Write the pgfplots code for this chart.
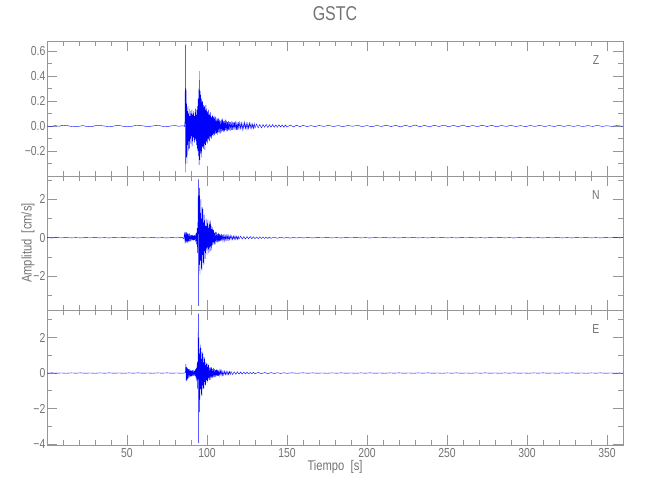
\documentclass[border=0pt]{standalone}
\usepackage{fontspec}
\setmainfont{Liberation Sans}[FakeStretch=0.8]
\usepackage{pgfplots}
\pgfplotsset{compat=1.18}
\definecolor{axgray}{RGB}{150,150,150}
\definecolor{txtgray}{RGB}{115,115,115}
\definecolor{trace}{RGB}{0,0,255}
\pgfplotsset{seis/.style={
  scale only axis, width=576bp, xmin=0, xmax=360,
  axis line style={draw=axgray, line width=0.7bp},
  every tick/.style={draw=axgray, line width=0.7bp},
  major tick length=10bp, minor tick length=5bp,
  xtick={50,100,150,200,250,300,350},
  minor xtick={10,20,30,40,60,70,80,90,110,120,130,140,160,170,180,190,210,220,230,240,260,270,280,290,310,320,330,340},
  tick align=inside,
  ticklabel style={font=\fontsize{13bp}{13bp}\selectfont, text=txtgray},
  yticklabel style={inner xsep=1.5bp},
  /pgf/number format/assume math mode=true,
  clip=true,
  no markers,
  cycle list={{draw=trace, line width=0.35bp, solid}},
}}
\begin{document}
\begin{tikzpicture}
\path[use as bounding box] (0,0) rectangle (650bp,-500bp);
% ---------- Z ----------
\begin{axis}[seis, at={(47bp,-41bp)}, anchor=north west, height=135bp,
  ymin=-0.4, ymax=0.68,
  ytick={-0.2,0,0.2,0.4,0.6}, yticklabels={−0.2,0.0,0.2,0.4,0.6},
  minor ytick={-0.3,-0.1,0.1,0.3,0.5},
  xticklabels={}]
\addplot coordinates {(0,0.000)(2.5,-0.004)(5,0.003)(7.5,-0.002)(10,0.006)(12.5,0.004)(15,-0.003)(17.5,-0.006)(20,-0.002)(22.5,0.003)(25,-0.004)(27.5,-0.006)(30,0.002)(32.5,0.005)(35,0.001)(37.5,-0.003)(40,-0.005)(42.5,0.002)(45,0.004)(47.5,-0.002)(50,-0.006)(52.5,-0.003)(55,0.003)(57.5,0.005)(60,0.001)(62.5,-0.004)(65,-0.002)(67.5,0.003)(70,0.004)(72.5,-0.003)(75,-0.005)(77.5,0.001)(80,0.003)(82.5,-0.002)(85,0.002)(86,-0.003)
(86.3,0.05)(86.5,0.65)(86.7,-0.37)(86.9,0.30)(87.1,-0.25)(87.3,0.18)(87.5,-0.30)(87.7,0.12)(87.9,-0.15)(88.1,0.16)(88.3,-0.20)(88.5,0.10)(88.7,-0.12)(88.9,0.14)(89.1,-0.18)(89.3,0.08)(89.5,-0.10)(89.7,0.12)(89.9,-0.14)(90.1,0.10)(90.3,-0.08)(90.5,0.13)(90.7,-0.16)(90.9,0.09)(91.1,-0.12)(91.3,0.10)(91.5,-0.09)(91.7,0.12)(91.9,-0.11)(92.1,0.08)(92.3,-0.13)(92.5,0.11)(92.7,-0.10)(92.9,0.14)(93.1,-0.12)(93.3,0.09)(93.5,-0.15)(93.7,0.13)(93.9,-0.18)(94.1,0.16)(94.3,-0.20)(94.5,0.22)(94.7,-0.24)(94.9,0.30)(95.1,-0.31)(95.3,0.44)(95.5,-0.27)(95.7,0.28)(95.9,-0.22)(96.1,0.25)(96.3,-0.20)(96.5,0.22)(96.7,-0.25)(96.9,0.19)(97.1,-0.17)(97.3,0.20)(97.5,-0.16)(97.7,0.17)(97.9,-0.18)(98.1,0.15)(98.3,-0.14)(98.5,0.16)(98.7,-0.19)(98.9,0.13)(99.1,-0.15)(99.3,0.17)(99.5,-0.12)(99.7,0.14)(99.9,-0.13)(100.1,0.12)(100.3,-0.14)(100.5,0.11)(100.7,-0.10)(100.9,0.13)(101.1,-0.11)(101.3,0.09)(101.5,-0.12)(101.7,0.10)(101.9,-0.08)(102.1,0.11)(102.3,-0.09)(102.5,0.08)(102.7,-0.10)(102.9,0.07)(103.1,-0.08)(103.3,0.09)(103.5,-0.07)(103.7,0.08)(103.9,-0.06)(104.1,0.07)(104.3,-0.08)(104.5,0.06)(104.7,-0.07)(104.9,0.08)(105.2,-0.06)(105.5,0.07)(105.8,-0.06)(106.1,0.05)(106.4,-0.07)(106.7,0.06)(107,-0.05)(107.3,0.06)(107.6,-0.05)(107.9,0.05)(108.2,-0.06)(108.5,0.04)(108.8,-0.05)(109.1,0.05)(109.4,-0.04)(109.7,0.06)(110,-0.04)(110.3,0.04)(110.6,-0.05)(110.9,0.04)(111.2,-0.04)(111.5,0.05)(111.8,-0.03)(112.1,0.04)(112.4,-0.04)(112.7,0.03)(113,-0.04)(113.3,0.04)(113.6,-0.03)(114,0.03)(114.4,-0.04)(114.8,0.03)(115.2,-0.03)(115.6,0.04)(116,-0.03)(116.4,0.03)(116.8,-0.02)(117.2,0.03)(117.6,-0.03)(118,0.04)(118.4,-0.03)(118.8,0.02)(119.2,-0.03)(119.6,0.03)(120,-0.02)(120.5,0.03)(121,-0.02)(121.5,0.025)(122,-0.03)(122.5,0.02)(123,-0.02)(123.5,0.03)(124,-0.02)(124.5,0.02)(125,-0.025)(125.5,0.02)(126,-0.02)(126.5,0.025)(127,-0.015)(127.5,0.02)(128,-0.02)(128.5,0.015)(129,-0.02)(129.5,0.02)(130,-0.015)(131,0.015)(132,-0.015)(133,0.012)(134,-0.015)(135,0.012)(136,-0.01)(137,0.012)(138,-0.012)(139,0.01)(140,-0.01)(141,0.012)(142,-0.01)(143,0.008)(144,-0.01)(145,0.01)(146,-0.008)(147,0.008)(148,-0.01)(149,0.008)(150,-0.008)(152,0.007)(154,-0.007)(156,0.006)(158,-0.006)(160,0.005)
(162.5,-0.004)(165,0.003)(167.5,-0.005)(170,0.004)(173,-0.003)(176,0.005)(179,-0.004)(182,0.003)(185,-0.005)(188,0.004)(191,-0.002)(194,0.005)(197,-0.004)(200,0.003)(203,-0.006)(206,0.004)(209,-0.003)(212,0.006)(215,-0.004)(218,0.005)(221,-0.007)(224,0.006)(227,-0.005)(230,0.008)(233,-0.006)(236,0.005)(239,-0.007)(242,0.006)(245,-0.004)(248,0.007)(251,-0.006)(254,0.005)(257,-0.005)(260,0.007)(263,-0.006)(266,0.004)(269,-0.005)(272,0.006)(275,-0.004)(278,0.005)(281,-0.006)(284,0.004)(287,-0.003)(290,0.005)(293,-0.004)(296,0.003)(299,-0.005)(302,0.004)(305,-0.003)(308,0.005)(311,-0.004)(314,0.003)(317,-0.004)(320,0.005)(323,-0.003)(326,0.004)(329,-0.003)(332,0.003)(335,-0.004)(338,0.003)(341,-0.003)(344,0.004)(347,-0.003)(350,0.002)(353,-0.003)(356,0.003)(360,-0.002)};
\node[font=\fontsize{13bp}{13bp}\selectfont, text=txtgray] at (rel axis cs:0.953,0.86) {Z};
\end{axis}
% ---------- N ----------
\begin{axis}[seis, at={(47bp,-176bp)}, anchor=north west, height=134bp,
  ymin=-3.77, ymax=3.22,
  ytick={-2,0,2}, yticklabels={−2,0,2},
  minor ytick={-3,-1,1,3},
  xticklabels={}]
\addplot coordinates {(0,0.005)(3,-0.01)(6,0.008)(9,-0.005)(12,0.01)(15,-0.008)(18,0.005)(21,-0.01)(24,0.008)(27,-0.005)(30,0.01)(33,-0.008)(36,0.005)(39,-0.01)(42,0.008)(45,-0.005)(48,0.01)(51,-0.008)(54,0.005)(57,-0.01)(60,0.008)(63,-0.005)(66,0.01)(69,-0.008)(72,0.005)(75,-0.01)(78,0.008)(81,-0.005)(84,0.01)
(84.5,0.02)(85.5,-0.05)(86,0.22)(86.3,-0.3)(86.6,0.28)(86.9,-0.25)(87.2,0.3)(87.5,-0.22)(87.8,0.25)(88.1,-0.28)(88.4,0.2)(88.7,-0.18)(89,0.22)(89.3,-0.2)(89.6,0.15)(89.9,-0.17)(90.2,0.14)(90.5,-0.12)(90.8,0.15)(91.1,-0.13)(91.4,0.12)(91.7,-0.15)(92,0.13)(92.3,-0.12)(92.6,0.16)(92.9,-0.2)(93.2,0.25)(93.5,-0.35)(93.8,0.5)(94.1,-0.8)(94.4,1.2)(94.6,3.05)(94.8,-3.55)(95.0,2.2)(95.2,-1.4)(95.4,2.6)(95.6,-1.9)(95.8,1.3)(96.0,-1.2)(96.2,2.0)(96.4,-1.6)(96.6,1.0)(96.8,-1.7)(97.0,1.6)(97.2,-0.9)(97.4,1.5)(97.6,-1.3)(97.8,0.8)(98.0,-1.4)(98.2,1.2)(98.4,-0.7)(98.6,0.9)(98.8,-1.1)(99,0.6)(99.2,-0.8)(99.4,1.0)(99.6,-0.55)(99.8,0.6)(100,-0.9)(100.2,0.75)(100.4,-0.5)(100.6,0.95)(100.8,-0.6)(101,0.5)(101.2,-0.8)(101.4,0.85)(101.6,-0.5)(101.8,0.7)(102,-0.7)(102.2,0.9)(102.4,-0.45)(102.6,0.6)(102.8,-0.65)(103,0.45)(103.3,-0.4)(103.6,0.55)(103.9,-0.3)(104.2,0.4)(104.5,-0.35)(104.8,0.25)(105.1,-0.35)(105.4,0.3)(105.7,-0.2)(106,0.28)(106.3,-0.25)(106.6,0.2)(106.9,-0.22)(107.2,0.25)(107.5,-0.18)(107.8,0.2)(108.1,-0.2)(108.4,0.16)(108.7,-0.15)(109,0.2)(109.3,-0.14)(109.6,0.15)(110,-0.16)(110.4,0.12)(110.8,-0.15)(111.2,0.14)(111.6,-0.1)(112,0.13)(112.4,-0.12)(112.8,0.1)(113.2,-0.13)(113.6,0.11)(114,-0.1)(114.5,0.12)(115,-0.09)(115.5,0.1)(116,-0.1)(116.5,0.09)(117,-0.08)(117.5,0.1)(118,-0.09)(118.5,0.08)(119,-0.09)(119.5,0.08)(120,-0.07)(121,0.08)(122,-0.07)(123,0.06)(124,-0.07)(125,0.06)(126,-0.05)(127,0.06)(128,-0.05)(129,0.05)(130,-0.05)(131,0.04)(132,-0.05)(133,0.04)(134,-0.04)(135,0.04)(136,-0.035)(137,0.035)(138,-0.04)(139,0.03)(140,-0.03)(142,0.03)(144,-0.025)(146,0.025)(148,-0.02)(150,0.02)(152,-0.02)(154,0.015)(156,-0.015)(158,0.015)(160,-0.01)
(163,0.008)(166,-0.01)(169,0.008)(172,-0.005)(175,0.01)(178,-0.008)(181,0.005)(184,-0.01)(187,0.008)(190,-0.005)(193,0.01)(196,-0.008)(199,0.005)(202,-0.01)(205,0.008)(208,-0.005)(211,0.01)(214,-0.008)(217,0.005)(220,-0.01)(223,0.008)(226,-0.005)(229,0.01)(232,-0.008)(235,0.005)(238,-0.01)(241,0.008)(244,-0.005)(247,0.01)(250,-0.008)(253,0.005)(256,-0.01)(259,0.008)(262,-0.005)(265,0.01)(268,-0.008)(271,0.005)(274,-0.01)(277,0.008)(280,-0.005)(283,0.01)(286,-0.008)(289,0.005)(292,-0.01)(295,0.008)(298,-0.005)(301,0.01)(304,-0.008)(307,0.005)(310,-0.01)(313,0.008)(316,-0.005)(319,0.01)(322,-0.008)(325,0.005)(328,-0.01)(331,0.008)(334,-0.005)(337,0.01)(340,-0.008)(343,0.005)(346,-0.01)(349,0.008)(352,-0.005)(355,0.01)(358,-0.008)(360,0.005)};
\node[font=\fontsize{13bp}{13bp}\selectfont, text=txtgray] at (rel axis cs:0.953,0.86) {N};
\end{axis}
% ---------- E ----------
\begin{axis}[seis, at={(47bp,-310bp)}, anchor=north west, height=135bp,
  ymin=-4.05, ymax=3.55,
  ytick={-4,-2,0,2}, yticklabels={−4,−2,0,2},
  minor ytick={-3,-1,1,3},
  xticklabels={50,100,150,200,250,300,350}]
\addplot coordinates {(0,-0.005)(3,0.01)(6,-0.008)(9,0.005)(12,-0.01)(15,0.008)(18,-0.005)(21,0.01)(24,-0.008)(27,0.005)(30,-0.01)(33,0.008)(36,-0.005)(39,0.01)(42,-0.008)(45,0.005)(48,-0.01)(51,0.008)(54,-0.005)(57,0.01)(60,-0.008)(63,0.005)(66,-0.01)(69,0.008)(72,-0.005)(75,0.01)(78,-0.008)(81,0.005)(84,-0.01)(86,0.005)
(86.5,0.05)(86.8,0.5)(87.0,-0.45)(87.2,0.35)(87.4,-0.4)(87.6,0.3)(87.8,-0.35)(88.0,0.25)(88.2,-0.3)(88.5,0.2)(88.8,-0.25)(89.1,0.22)(89.4,-0.2)(89.7,0.18)(90,-0.2)(90.3,0.15)(90.6,-0.18)(90.9,0.16)(91.2,-0.14)(91.5,0.15)(91.8,-0.16)(92.1,0.13)(92.4,-0.15)(92.7,0.2)(93,-0.25)(93.3,0.3)(93.6,-0.45)(93.9,0.6)(94.2,-0.9)(94.4,1.3)(94.6,3.35)(94.8,-3.94)(95.0,2.0)(95.2,-2.2)(95.4,1.1)(95.6,-1.5)(95.8,1.6)(96.0,-0.9)(96.2,1.4)(96.4,-1.2)(96.6,0.8)(96.8,-1.3)(97,1.2)(97.2,-0.7)(97.4,1.1)(97.6,-0.9)(97.8,0.6)(98,-0.85)(98.2,0.9)(98.4,-0.5)(98.6,0.8)(98.8,-0.65)(99,0.45)(99.2,-0.7)(99.4,0.6)(99.6,-0.4)(99.8,0.5)(100,-0.55)(100.2,0.35)(100.4,-0.45)(100.6,0.55)(100.8,-0.3)(101,0.45)(101.3,-0.4)(101.6,0.3)(101.9,-0.38)(102.2,0.32)(102.5,-0.25)(102.8,0.35)(103.1,-0.28)(103.4,0.22)(103.7,-0.26)(104,0.28)(104.3,-0.2)(104.6,0.22)(104.9,-0.24)(105.2,0.17)(105.5,-0.2)(105.8,0.2)(106.1,-0.15)(106.4,0.19)(106.7,-0.17)(107,0.14)(107.3,-0.16)(107.6,0.15)(108,-0.13)(108.4,0.15)(108.8,-0.12)(109.2,0.13)(109.6,-0.12)(110,0.1)(110.5,-0.12)(111,0.11)(111.5,-0.09)(112,0.1)(112.5,-0.1)(113,0.08)(113.5,-0.09)(114,0.09)(114.5,-0.07)(115,0.08)(116,-0.08)(117,0.07)(118,-0.07)(119,0.07)(120,-0.06)(121,0.06)(122,-0.06)(123,0.05)(124,-0.05)(125,0.05)(126,-0.05)(127,0.04)(128,-0.045)(129,0.04)(130,-0.04)(132,0.035)(134,-0.035)(136,0.03)(138,-0.03)(140,0.025)(142,-0.025)(144,0.02)(146,-0.02)(148,0.018)(150,-0.015)(153,0.015)(156,-0.012)(160,0.01)
(163,-0.008)(166,0.01)(169,-0.008)(172,0.005)(175,-0.01)(178,0.008)(181,-0.005)(184,0.01)(187,-0.008)(190,0.005)(193,-0.01)(196,0.008)(199,-0.005)(202,0.01)(205,-0.008)(208,0.005)(211,-0.01)(214,0.008)(217,-0.005)(220,0.01)(223,-0.008)(226,0.005)(229,-0.01)(232,0.008)(235,-0.005)(238,0.01)(241,-0.008)(244,0.005)(247,-0.01)(250,0.008)(253,-0.005)(256,0.01)(259,-0.008)(262,0.005)(265,-0.01)(268,0.008)(271,-0.005)(274,0.01)(277,-0.008)(280,0.005)(283,-0.01)(286,0.008)(289,-0.005)(292,0.01)(295,-0.008)(298,0.005)(301,-0.01)(304,0.008)(307,-0.005)(310,0.01)(313,-0.008)(316,0.005)(319,-0.01)(322,0.008)(325,-0.005)(328,0.01)(331,-0.008)(334,0.005)(337,-0.01)(340,0.008)(343,-0.005)(346,0.01)(349,-0.008)(352,0.005)(355,-0.01)(358,0.008)(360,-0.005)};
\node[font=\fontsize{13bp}{13bp}\selectfont, text=txtgray] at (rel axis cs:0.953,0.86) {E};
\end{axis}
\node[font=\fontsize{20bp}{20bp}\selectfont, text=txtgray] at (335bp,-14bp) {GSTC};
\node[font=\fontsize{14bp}{14bp}\selectfont, text=txtgray, rotate=90] at (28bp,-243bp) {Amplitud\ \ [cm/s]};
\node[font=\fontsize{14bp}{14bp}\selectfont, text=txtgray] at (335bp,-467bp) {Tiempo\ \ [s]};
\end{tikzpicture}
\end{document}
